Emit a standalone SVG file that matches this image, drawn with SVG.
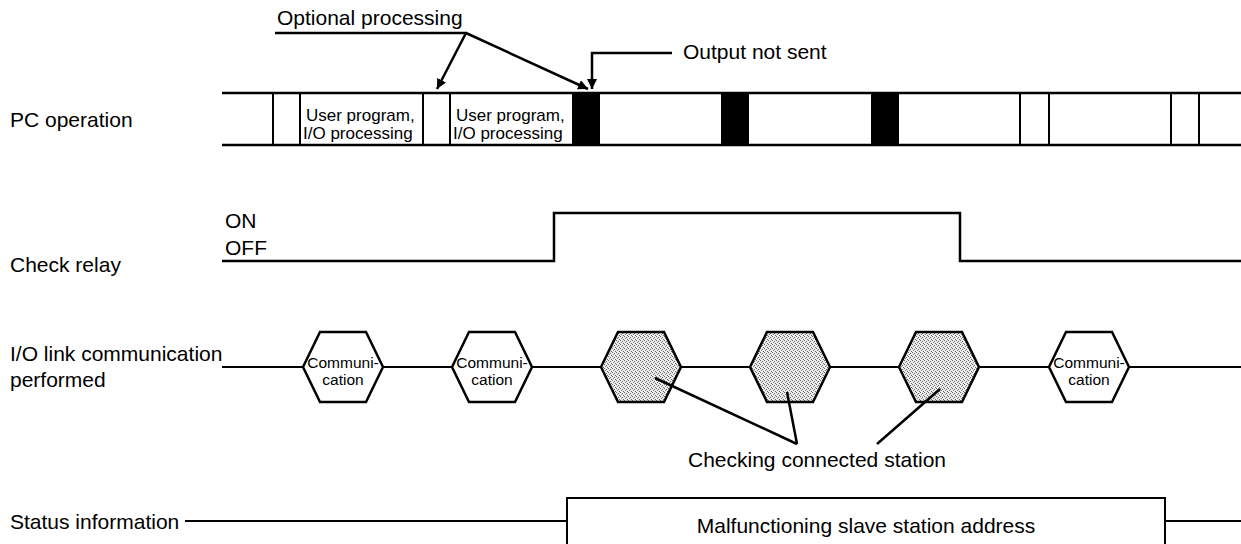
<svg xmlns="http://www.w3.org/2000/svg" width="1241" height="544" viewBox="0 0 1241 544">
  <style>
    .lbl { font-family: "Liberation Sans", Arial, sans-serif; font-size: 21px; fill: #000; }
    .small { font-family: "Liberation Sans", Arial, sans-serif; font-size: 17px; fill: #000; }
    .hextxt { font-family: "Liberation Sans", Arial, sans-serif; font-size: 15.5px; fill: #000; text-anchor: middle; }
    .ln { stroke: #000; stroke-width: 2.5; fill: none; }
    .thin { stroke: #000; stroke-width: 2; fill: none; }
    .hex { stroke: #000; stroke-width: 2.5; fill: #fff; stroke-linejoin: miter; }
    .hexg { stroke: #000; stroke-width: 2.5; fill: url(#stipple); }
  </style>
  <defs>
    <pattern id="stipple" width="4" height="4" patternUnits="userSpaceOnUse">
      <rect width="4" height="4" fill="#ececec"/>
      <rect x="0" y="0" width="1" height="1" fill="#666"/>
      <rect x="2" y="1" width="1" height="1" fill="#666"/>
      <rect x="1" y="2" width="1" height="1" fill="#888"/>
      <rect x="3" y="3" width="1" height="1" fill="#666"/>
    </pattern>
    <marker id="arrow" viewBox="0 0 10 10" refX="10" refY="5" markerWidth="10" markerHeight="10" markerUnits="userSpaceOnUse" orient="auto">
      <path d="M0,0 L10,5 L0,10 Z" fill="#000"/>
    </marker>
  </defs>

  <rect width="1241" height="544" fill="#fff"/>

  <!-- row labels -->
  <g id="row-labels">
    <text class="lbl" x="10" y="127">PC operation</text>
    <text class="lbl" x="10" y="272">Check relay</text>
    <text class="lbl" x="10" y="361">I/O link communication</text>
    <text class="lbl" x="10" y="387">performed</text>
    <text class="lbl" x="10" y="529">Status information</text>
  </g>

  <!-- PC operation timeline -->
  <g id="pc-operation">
    <line class="ln" x1="222" y1="93" x2="1241" y2="93"/>
    <line class="ln" x1="222" y1="145" x2="1241" y2="145"/>
    <line class="thin" x1="273" y1="93" x2="273" y2="145"/>
    <line class="thin" x1="300" y1="93" x2="300" y2="145"/>
    <line class="thin" x1="423" y1="93" x2="423" y2="145"/>
    <line class="thin" x1="450" y1="93" x2="450" y2="145"/>
    <rect x="572" y="93" width="28" height="52" fill="#000"/>
    <rect x="721" y="93" width="28" height="52" fill="#000"/>
    <rect x="871" y="93" width="28" height="52" fill="#000"/>
    <line class="thin" x1="1020" y1="93" x2="1020" y2="145"/>
    <line class="thin" x1="1049" y1="93" x2="1049" y2="145"/>
    <line class="thin" x1="1171" y1="93" x2="1171" y2="145"/>
    <line class="thin" x1="1199" y1="93" x2="1199" y2="145"/>
    <text class="small" x="306" y="121">User program,</text>
    <text class="small" x="303" y="139">I/O processing</text>
    <text class="small" x="456" y="121">User program,</text>
    <text class="small" x="453" y="139">I/O processing</text>
  </g>

  <!-- Check relay signal -->
  <g id="check-relay">
    <text class="lbl" x="225" y="228">ON</text>
    <text class="lbl" x="225" y="255">OFF</text>
    <polyline class="ln" points="222,261 554,261 554,213 960,213 960,261 1241,261"/>
  </g>

  <!-- I/O link communication -->
  <g id="io-link">
    <line class="thin" x1="222" y1="367" x2="1241" y2="367"/>
  </g>
  <g id="comm-1">
    <polygon class="hex" points="303,367 320,332 366,332 383,367 366,402 320,402"/>
    <text class="hextxt" x="343" y="368">Communi-</text>
    <text class="hextxt" x="343" y="385">cation</text>
  </g>
  <g id="comm-2">
    <polygon class="hex" points="452,367 469,332 515,332 532,367 515,402 469,402"/>
    <text class="hextxt" x="492" y="368">Communi-</text>
    <text class="hextxt" x="492" y="385">cation</text>
  </g>
  <g id="check-1">
    <polygon class="hexg" points="601,367 618,332 664,332 681,367 664,402 618,402"/>
  </g>
  <g id="check-2">
    <polygon class="hexg" points="750,367 767,332 813,332 830,367 813,402 767,402"/>
  </g>
  <g id="check-3">
    <polygon class="hexg" points="899,367 916,332 962,332 979,367 962,402 916,402"/>
  </g>
  <g id="comm-3">
    <polygon class="hex" points="1049,367 1066,332 1112,332 1129,367 1112,402 1066,402"/>
    <text class="hextxt" x="1089" y="368">Communi-</text>
    <text class="hextxt" x="1089" y="385">cation</text>
  </g>

  <!-- Status information -->
  <g id="status">
    <line class="thin" x1="185" y1="521" x2="567" y2="521"/>
    <polyline class="thin" points="567,544 567,498 1165,498 1165,544"/>
    <line class="thin" x1="1165" y1="521" x2="1241" y2="521"/>
    <text class="lbl" x="866" y="533" text-anchor="middle">Malfunctioning slave station address</text>
  </g>

  <!-- callouts -->
  <g id="callouts">
    <text class="lbl" x="277" y="25">Optional processing</text>
    <line class="ln" x1="275" y1="33" x2="467" y2="33"/>
    <line class="ln" x1="466" y1="33" x2="437" y2="89" marker-end="url(#arrow)"/>
    <line class="ln" x1="466" y1="33" x2="588" y2="89" marker-end="url(#arrow)"/>

    <text class="lbl" x="683" y="59">Output not sent</text>
    <polyline class="ln" points="672,53 592,53 592,89" marker-end="url(#arrow)"/>

    <text class="lbl" x="688" y="467">Checking connected station</text>
    <line class="ln" x1="655" y1="378" x2="797" y2="444"/>
    <line class="ln" x1="787" y1="392" x2="797" y2="444"/>
    <line class="ln" x1="940" y1="389" x2="877" y2="444"/>
  </g>
</svg>
